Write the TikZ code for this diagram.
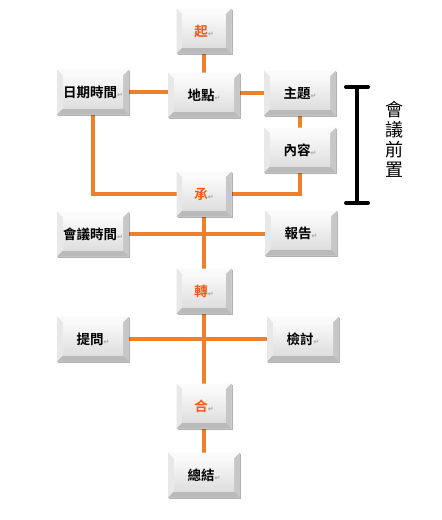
\documentclass[tikz,border=0pt]{standalone}
\usepackage{fontspec}
\newfontfamily\cjk{Noto Sans CJK TC}[BoldFont={Noto Sans CJK TC Bold}]
\newfontfamily\symf{DejaVu Sans}
\usetikzlibrary{shadows,calc,backgrounds}
\definecolor{lineor}{HTML}{F07F2A}
\definecolor{txtor}{HTML}{EE5A1E}
\newcommand{\pmk}{\textcolor{black!35}{\symf\fontsize{7}{7}\selectfont ↵}}
\tikzset{
  bevelbox/.style={rectangle, inner sep=0pt, minimum width=72pt, minimum height=45pt,
    font=\cjk\bfseries\fontsize{13.5}{14}\selectfont, text=black, fill=black!15,
    drop shadow={shadow xshift=1.2pt, shadow yshift=-1.8pt, opacity=0.3, fill=black},
    path picture={
      \path (path picture bounding box.north west) coordinate (bnw)
            (path picture bounding box.north east) coordinate (bne)
            (path picture bounding box.south west) coordinate (bsw)
            (path picture bounding box.south east) coordinate (bse);
      \path ($(bnw)+(6pt,-6pt)$) coordinate (inw)
            ($(bne)+(-6pt,-6pt)$) coordinate (ine)
            ($(bsw)+(6pt,6pt)$) coordinate (isw)
            ($(bse)+(-6pt,6pt)$) coordinate (ise);
      \fill[black!2] (bnw) -- (bne) -- (ine) -- (inw) -- cycle;
      \fill[black!9] (bnw) -- (inw) -- (isw) -- (bsw) -- cycle;
      \fill[black!22] (bne) -- (ine) -- (ise) -- (bse) -- cycle;
      \fill[black!27] (bsw) -- (isw) -- (ise) -- (bse) -- cycle;
      \shade[top color=black!2, bottom color=black!13] (inw) rectangle (ise);
    }},
  keybox/.style={bevelbox, minimum width=55pt, text=txtor},
  conn/.style={draw=lineor, line width=4.5pt, line cap=round},
}
\begin{document}
\begin{tikzpicture}[x=1pt,y=-1pt]
\useasboundingbox (0,0) rectangle (442,520);

\node[keybox]   (qi)      at (204,31)  {起\pmk};
\node[bevelbox] (didian)  at (204,95)  {地點\pmk};
\node[bevelbox] (riqi)    at (93,92)   {日期時間\pmk};
\node[bevelbox] (zhuti)   at (300,93)  {主題\pmk};
\node[bevelbox] (neirong) at (300,150) {內容\pmk};
\node[keybox]   (cheng)   at (204,194) {承\pmk};
\node[bevelbox] (huiyi)   at (93,234)  {會議時間\pmk};
\node[bevelbox] (baogao)  at (301,233) {報告\pmk};
\node[keybox]   (zhuan)   at (204,291) {轉\pmk};
\node[bevelbox] (tiwen)   at (93,339)  {提問\pmk};
\node[bevelbox] (jiantao) at (303,339) {檢討\pmk};
\node[keybox]   (he)      at (204,406) {合\pmk};
\node[bevelbox] (zongjie) at (204,475) {總結\pmk};

\begin{scope}[on background layer]
\fill[white] (0,0) rectangle (442,520);
\draw[conn] (qi.south) -- (didian.north);
\draw[conn] (riqi.east) -- (riqi.east -| didian.west);
\draw[conn] (didian.east |- zhuti.west) -- (zhuti.west);
\draw[conn] (zhuti.south) -- (neirong.north);
\draw[conn] (neirong.south) |- (cheng.east);
\draw[conn] (riqi.south) |- (cheng.west);
\draw[conn] (cheng.south) -- (zhuan.north);
\draw[conn] (huiyi.east) -- (huiyi.east -| baogao.west);
\draw[conn] (zhuan.south) -- (he.north);
\draw[conn] (tiwen.east) -- (tiwen.east -| jiantao.west);
\draw[conn] (he.south) -- (zongjie.north);
\end{scope}

\draw[line width=4pt, line cap=round] (357,87) -- (357,203);
\draw[line width=4pt, line cap=round] (346,87) -- (368,87);
\draw[line width=4pt, line cap=round] (346,203) -- (368,203);
\node[align=center, inner sep=0pt, font=\cjk\fontsize{18}{20}\selectfont] (side) at (394,139) {會\\議\\前\\置};
\end{tikzpicture}
\end{document}
